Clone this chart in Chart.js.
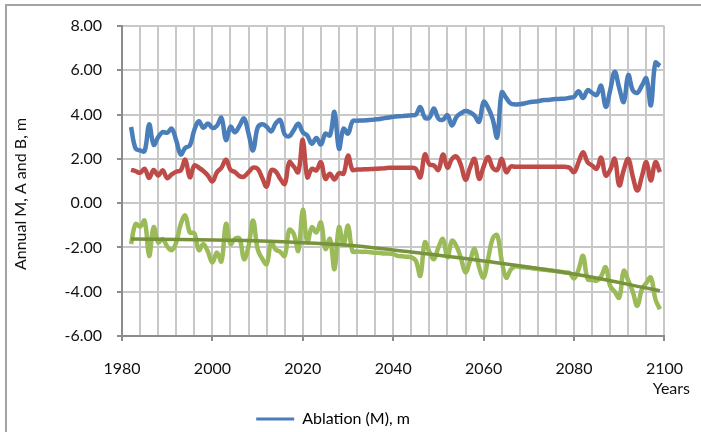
<!DOCTYPE html>
<html>
<head>
<meta charset="utf-8">
<script src="https://cdn.jsdelivr.net/npm/chart.js@4/dist/chart.umd.min.js"></script>
<style>
  body { margin: 0; background: #fff; }
  #wrap { position: relative; width: 701px; height: 432px; overflow: hidden; }
  #frame { position: absolute; left: 5px; top: 4px; width: 800px; height: 600px;
           border-top: 2px solid #a3a3a3; border-left: 2px solid #a3a3a3; }
  canvas { position: absolute; left: 0; top: 0; }
</style>
</head>
<body>
<div id="wrap">
  <div id="frame"></div>
  <canvas id="myChart" width="701" height="432"></canvas>
</div>
<script>
// yearly values, first value = 1982
const firstYear = 1982;

const ablation = [
  3.44, 2.47, 2.38, 2.35, 3.56, 2.64, 2.98, 3.21, 3.18, 3.36,
  2.83, 2.2, 2.5, 2.6, 3.3, 3.7, 3.4, 3.6, 3.4, 3.5,
  3.85, 2.85, 3.45, 3.2, 3.5, 3.82, 3.14, 2.38, 3.4, 3.56,
  3.45, 3.24, 3.6, 3.75, 3.1, 3.02, 3.3, 3.59, 3.2, 3.05,
  2.68, 2.94, 2.65, 3.14, 3.06, 4.12, 2.46, 3.36, 3.14, 3.7,
  3.72, 3.73, 3.74, 3.76, 3.78, 3.8, 3.84, 3.87, 3.9, 3.92,
  3.93, 3.95, 3.97, 4.0, 4.34, 3.86, 3.86, 4.27, 3.82, 3.77,
  3.97, 3.51, 3.9, 4.06, 4.16, 4.1, 3.95, 3.68, 4.57, 4.3,
  3.8, 2.98, 5.0, 4.75, 4.5, 4.46, 4.47, 4.5, 4.55, 4.58,
  4.6, 4.65, 4.66, 4.68, 4.7, 4.71, 4.72, 4.76, 4.8, 5.05,
  4.75, 5.1, 4.98, 4.88, 5.3, 4.35, 5.1, 5.93, 5.2, 4.57,
  5.78, 5.1, 4.98, 5.3, 5.63, 4.42, 6.34, 6.19
];

const accumulation = [
  1.5, 1.45, 1.37, 1.55, 1.14, 1.5, 1.25, 1.48, 1.13, 1.3,
  1.42, 1.48, 1.96, 1.17, 1.7, 1.6, 1.45, 1.25, 0.98, 1.4,
  1.6, 1.96, 1.5, 1.4, 1.22, 1.2, 1.4, 1.6, 1.55, 1.15,
  0.75, 1.48, 1.43, 1.1, 0.87, 1.85, 1.65, 1.4, 2.86, 1.17,
  1.55, 1.48, 1.85, 1.1, 1.33, 1.07, 1.36, 1.33, 2.15, 1.5,
  1.52, 1.52, 1.53, 1.54, 1.55, 1.56, 1.57, 1.6, 1.6, 1.6,
  1.6, 1.6, 1.6, 1.55, 1.17, 2.2, 1.75, 1.7, 1.5, 2.2,
  1.6, 2.0, 2.1, 1.7, 1.05, 1.6, 2.0, 1.1, 1.65, 2.08,
  1.6, 1.5, 2.0, 1.4, 1.65, 1.64, 1.64, 1.64, 1.64, 1.64,
  1.64, 1.64, 1.64, 1.64, 1.64, 1.64, 1.64, 1.6, 1.4, 1.85,
  2.3, 1.85, 1.7, 1.55, 2.05, 1.25, 1.5, 2.0, 0.8, 1.5,
  2.0, 1.2, 0.57, 1.2, 1.85, 1.02, 1.85, 1.4
];

const balance = [
  -1.85, -0.94, -1.06, -0.79, -2.38, -1.09, -1.77, -1.62, -1.95, -2.12,
  -1.77, -0.94, -0.56, -1.32, -1.36, -2.12, -1.85, -2.2, -2.68, -2.23,
  -2.63, -0.94, -1.85, -1.6, -1.6, -2.53, -1.93, -0.79, -2.07, -2.5,
  -2.75, -1.77, -2.1, -2.2, -2.38, -1.21, -1.39, -2.15, -0.3, -1.77,
  -1.09, -1.32, -0.87, -2.07, -1.62, -2.98, -1.09, -1.85, -1.02, -2.18,
  -2.18, -2.2, -2.2, -2.22, -2.24, -2.25, -2.27, -2.28, -2.3, -2.38,
  -2.4, -2.42, -2.45, -2.6, -3.28, -1.77, -2.2, -2.53, -2.0, -1.62,
  -2.45, -1.7, -1.95, -2.5, -3.13, -2.6, -2.07, -2.9, -3.36, -2.5,
  -1.6, -1.45, -2.6, -3.36, -3.0, -2.85, -2.88, -2.9, -2.92, -2.95,
  -2.97, -3.0, -3.02, -3.04, -3.07, -3.1, -3.13, -3.15, -3.4, -3.0,
  -2.38, -3.43, -3.47, -3.5, -3.3, -2.9, -3.74, -4.0, -4.27, -3.06,
  -3.5, -4.0, -4.64, -3.9, -3.6, -3.36, -4.34, -4.79
];

// trend of B, read at its bends
const trendYears = [1982, 2004, 2018, 2030, 2040, 2058, 2080, 2099];
const trendValues = [-1.62, -1.68, -1.77, -1.9, -2.12, -2.56, -3.2, -3.96];

const xTicks = [1980, 2000, 2020, 2040, 2060, 2080, 2100];
const yTitle = 'Annual M, A and B, m';
const xTitle = 'Years';
const legendText = 'Ablation (M), m';

const textColor = '#111';
const fontFamily = 'Lato, "Open Sans", sans-serif';

const byYear = arr => arr.map((v, i) => ({ x: firstYear + i, y: v }));

const axisText = {
  id: 'axisText',
  afterDraw(chart) {
    const c = chart.ctx;
    c.save();
    c.font = '16px ' + fontFamily;
    c.fillStyle = textColor;
    c.textAlign = 'center';
    c.textBaseline = 'middle';
    c.translate(21, 194);
    c.rotate(-Math.PI / 2);
    c.fillText(yTitle, 0, 0);
    c.restore();

    c.save();
    c.font = '16px ' + fontFamily;
    c.fillStyle = textColor;
    c.textAlign = 'right';
    c.textBaseline = 'middle';
    c.fillText(xTitle, 690, 389);
    c.restore();
  }
};

const line = (data, color, width, order) => ({
  data: data,
  borderColor: color,
  backgroundColor: color,
  borderWidth: width,
  pointRadius: 0,
  tension: 0.4,
  fill: false,
  order: order
});

const ctx = document.getElementById('myChart').getContext('2d');
new Chart(ctx, {
  type: 'line',
  data: {
    datasets: [
      line(byYear(ablation), '#4a7ebb', 4.5, 1),
      line(byYear(accumulation), '#be4b48', 4.5, 2),
      line(byYear(balance), '#9bbb59', 4.5, 3),
      line(trendYears.map((x, i) => ({ x: x, y: trendValues[i] })), '#77933c', 3.5, 0)
    ]
  },
  options: {
    responsive: false,
    animation: false,
    layout: { padding: { top: 26, right: 35, left: 0, bottom: -5 } },
    plugins: {
      tooltip: { enabled: false },
      legend: {
        position: 'bottom',
        labels: {
          boxWidth: 38,
          boxHeight: 3,
          padding: 3,
          color: textColor,
          font: { family: fontFamily, size: 16 },
          generateLabels: () => [{
            text: legendText,
            fillStyle: '#4a7ebb',
            strokeStyle: '#4a7ebb',
            lineWidth: 0,
            datasetIndex: 0
          }]
        }
      }
    },
    scales: {
      x: {
        type: 'linear',
        min: 1980,
        max: 2100,
        afterFit: s => { s.height = 72; },
        afterBuildTicks: s => { s.ticks = []; for (let v = 1980; v <= 2100; v += 4) s.ticks.push({ value: v }); },
        ticks: {
          autoSkip: false,
          maxRotation: 0,
          padding: 18,
          color: textColor,
          font: { family: fontFamily, size: 16 },
          callback: v => xTicks.includes(v) ? String(v) : ''
        },
        grid: {
          color: '#c8c8c8',
          lineWidth: 2,
          tickLength: 5,
          tickColor: c => (c.tick && xTicks.includes(c.tick.value)) ? '#8c8c8c' : 'rgba(0,0,0,0)'
        },
        border: { color: '#8c8c8c', width: 2 }
      },
      y: {
        min: -6,
        max: 8,
        afterFit: s => { s.width = 122; },
        ticks: {
          stepSize: 2,
          padding: 15,
          color: textColor,
          font: { family: fontFamily, size: 16 },
          callback: v => v.toFixed(2)
        },
        grid: { color: '#c8c8c8', lineWidth: 2, tickLength: 5, tickColor: '#8c8c8c' },
        border: { color: '#8c8c8c', width: 2 }
      }
    }
  },
  plugins: [axisText]
});
</script>
</body>
</html>
